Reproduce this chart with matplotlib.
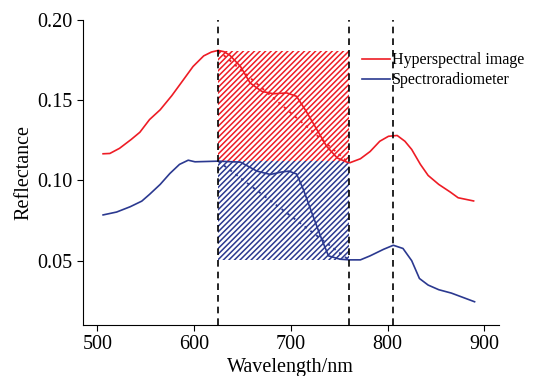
import numpy as np
import matplotlib.pyplot as plt

plt.rcParams['font.family'] = ['Liberation Serif', 'DejaVu Serif']
plt.rcParams['hatch.linewidth'] = 1.1

# hyperspectral image (red)
wl_img = [506, 513, 523, 535, 544, 554, 565, 577, 589, 599, 610, 618, 625, 631, 637, 648,
          658, 670, 682, 696, 706, 716, 727, 737, 748, 758, 761, 772, 782, 792,
          801, 810, 818, 825, 834, 842, 853, 865, 873, 889]
r_img = [0.1166, 0.1168, 0.120, 0.1255, 0.130, 0.1379, 0.144, 0.1528, 0.1627, 0.171,
         0.1776, 0.1800, 0.181, 0.1802, 0.178, 0.171, 0.1607, 0.1555, 0.154, 0.1545, 0.1524, 0.143,
         0.1317, 0.1213, 0.114, 0.1114, 0.111, 0.1135, 0.118, 0.1244, 0.1275, 0.128,
         0.1244, 0.1193, 0.110, 0.1031, 0.0975, 0.0927, 0.0892, 0.0872]

# spectroradiometer (blue)
wl_spec = [506, 520, 534, 546, 554, 565, 575, 585, 594, 601, 613, 625, 648, 665,
           679, 690, 698, 706, 713, 723, 732, 739, 751, 761, 772, 782, 796, 806, 816,
           825, 833, 842, 853, 866, 878, 890]
r_spec = [0.0785, 0.0803, 0.0836, 0.0871, 0.0913, 0.0975, 0.1043, 0.110, 0.1126, 0.1116,
          0.1118, 0.112, 0.1114, 0.1058, 0.1037, 0.1052, 0.1058, 0.1040, 0.0944, 0.0778, 0.0633,
          0.053, 0.0509, 0.0505, 0.0505, 0.053, 0.0571, 0.0596, 0.0576, 0.050, 0.0389,
          0.0348, 0.0319, 0.0298, 0.0271, 0.0244]

# marker wavelengths (dashed lines)
vlines = [625, 760, 806]

# hatched boxes and dotted chords
box_x = [625, 760]
red_box = [0.1118, 0.1808]
blue_box = [0.0505, 0.1118]
red_chord = [0.181, 0.111]
blue_chord = [0.112, 0.0505]

red = '#ee1c25'
blue = '#2b3990'

fig = plt.figure(figsize=(5.34, 3.76), dpi=100)
ax = fig.add_axes([0.155, 0.136, 0.779, 0.811])

ax.fill_between(box_x, red_box[0], red_box[1], facecolor='white', edgecolor=red,
                hatch='//////', linewidth=0)
ax.fill_between(box_x, blue_box[0], blue_box[1], facecolor='white', edgecolor=blue,
                hatch='//////', linewidth=0)

ax.plot(box_x, red_chord, color=red, linestyle=(0, (1.5, 2.5)), lw=1.3)
ax.plot(box_x, blue_chord, color=blue, linestyle=(0, (1.5, 2.5)), lw=1.3)

ax.plot(wl_img, r_img, color=red, lw=1.2, label='Hyperspectral image')
ax.plot(wl_spec, r_spec, color=blue, lw=1.2, label='Spectroradiometer')

for v in vlines:
    ax.axvline(v, color='black', linestyle=(0, (4, 3)), lw=1.2)

ax.set_xlim(485, 915)
ax.set_ylim(0.010, 0.20)
ax.set_xticks([500, 600, 700, 800, 900])
ax.set_yticks([0.05, 0.10, 0.15, 0.20])
ax.yaxis.set_major_formatter(plt.FormatStrFormatter('%.2f'))
ax.tick_params(labelsize=14.5, direction='out', length=4)
for s in ['top', 'right']:
    ax.spines[s].set_visible(False)
ax.set_xlabel('Wavelength/nm', fontsize=14.5, labelpad=3)
ax.set_ylabel('Reflectance', fontsize=14.5, labelpad=2.5)

ax.legend(loc='upper left', bbox_to_anchor=(0.655, 0.915), frameon=False, fontsize=11.5,
          handlelength=1.8, handletextpad=0.1, labelspacing=0.25, borderaxespad=0)

fig.savefig('out.png', dpi=100)
